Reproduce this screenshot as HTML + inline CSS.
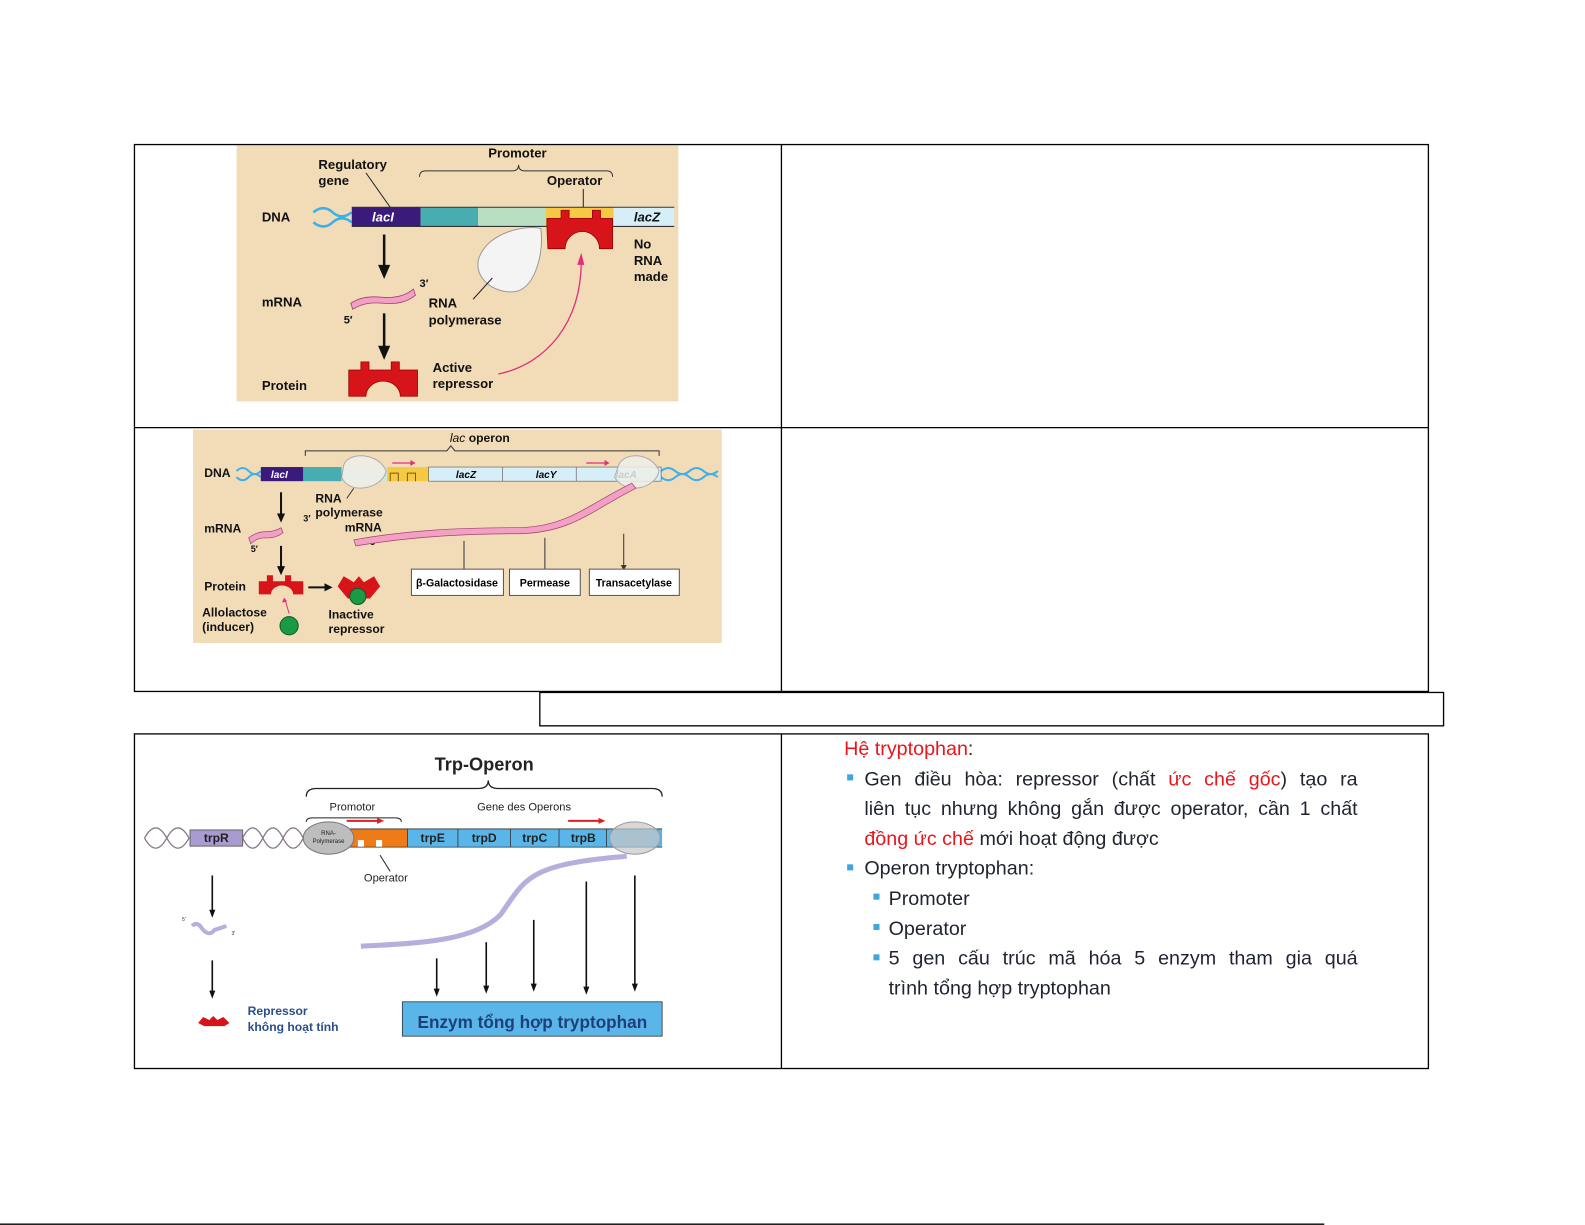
<!DOCTYPE html>
<html><head><meta charset="utf-8"><style>
html,body{margin:0;padding:0;background:#fff;width:1585px;height:1225px;overflow:hidden}
#w{position:absolute;left:0;top:0;width:1568px;height:1212px;transform:scale(1.0109);transform-origin:0 0}
svg{position:absolute;left:0;top:0}
text{font-family:"Liberation Sans",sans-serif}
.b{font-weight:bold}
#rt{position:absolute;left:835px;top:727px;font-family:"Liberation Sans","Noto Sans CJK SC",sans-serif;font-size:19.5px;color:#1f2430;line-height:29.6px}
#rt .j{text-align:justify;text-align-last:justify}
#rt .r{color:#e8161b}
.sq{position:absolute;width:6px;height:6px;background:#3fa7e0}
</style></head><body><div id="w">
<svg width="1568" height="1212" viewBox="0 0 1568 1212">
<!-- tables -->
<g stroke="#000" stroke-width="1.3" fill="none">
<rect x="133" y="143" width="1280" height="541"/>
<line x1="133" y1="423" x2="1413" y2="423"/>
<line x1="773" y1="143" x2="773" y2="684"/>
<rect x="534" y="685" width="894" height="33"/>
<rect x="133" y="726" width="1280" height="331"/>
<line x1="773" y1="726" x2="773" y2="1057"/>
<line x1="0" y1="1211" x2="1310" y2="1211"/>
</g>

<!-- Diagram 1 -->
<rect x="234" y="144" width="437" height="253" fill="#f2dcb8"/>
<g font-size="13" class="b" fill="#111" font-weight="bold">
<text x="315" y="167">Regulatory</text><text x="315" y="183">gene</text>
<text x="483" y="156">Promoter</text><text x="541" y="183">Operator</text>
<text x="259" y="219">DNA</text><text x="259" y="303">mRNA</text><text x="259" y="386">Protein</text>
<text x="627" y="246">No</text><text x="627" y="262">RNA</text><text x="627" y="278">made</text>
<text x="424" y="304">RNA</text><text x="424" y="321">polymerase</text>
<text x="428" y="368">Active</text><text x="428" y="384">repressor</text>
<text x="415" y="284" font-size="11">3′</text><text x="340" y="320" font-size="11">5′</text>
</g>
<path d="M415 175 q0 -6 6 -6 h86 q6 0 6 -6 q0 6 6 6 h81 q6 0 6 6" stroke="#333" fill="none"/>
<line x1="362" y1="171" x2="386" y2="205" stroke="#222"/>
<line x1="577" y1="187" x2="577" y2="205" stroke="#222"/>
<path d="M310 210 q10 -8 19 0 t19 0 M310 220 q10 8 19 0 t19 0" stroke="#3cb0e8" stroke-width="2.5" fill="none"/>
<rect x="348" y="205" width="68" height="19" fill="#3a1a7a"/>
<rect x="416" y="205" width="57" height="19" fill="#47adb0"/>
<rect x="473" y="205" width="67" height="19" fill="#b8dfc2"/>
<rect x="540" y="205" width="67" height="19" fill="#f6c945"/>
<rect x="607" y="205" width="60" height="19" fill="#d6eef8"/>
<line x1="348" y1="205" x2="667" y2="205" stroke="#333"/><line x1="348" y1="224" x2="667" y2="224" stroke="#333"/>
<text x="368" y="219" fill="#fff" font-size="13" font-style="italic" font-weight="bold">lacI</text>
<text x="627" y="219" fill="#111" font-size="13" font-style="italic" font-weight="bold">lacZ</text>
<path d="M541 224 V216 h14 v-8 h8 v8 h23 v-8 h8 v8 h12 V246 h-13 a17 17 0 0 0 -34 0 h-17z" fill="#d8141b" stroke="#900" stroke-width=".8"/>
<path d="M535 226 C520 222 480 230 473 258 C470 280 495 292 512 288 C530 282 538 250 535 226z" fill="#f4f4f4" stroke="#999"/>
<line x1="468" y1="296" x2="487" y2="275" stroke="#222"/>
<path d="M380 232 V265" stroke="#111" stroke-width="2.5"/><path d="M374 262 l6 14 l6 -14z" fill="#111"/>
<path d="M380 310 V345" stroke="#111" stroke-width="2.5"/><path d="M374 342 l6 14 l6 -14z" fill="#111"/>
<path d="M347 300 q12 -8 30 -6 q20 2 32 -8 l2 6 q-12 10 -32 8 q-18 -2 -30 6z" fill="#f2a0c4" stroke="#a04070" stroke-width=".8"/>
<path d="M345 392 V366 h12 v-8 h8 v8 h22 v-8 h8 v8 h18 V392 h-17 a17 15 0 0 0 -34 0z" fill="#d8141b" stroke="#900" stroke-width=".8"/>
<path d="M493 370 C540 360 575 320 575 258" stroke="#e0307a" fill="none" stroke-width="1.3"/>
<path d="M571 262 l4 -12 l3 12z" fill="#e0307a"/>

<!-- Diagram 2 -->
<rect x="191" y="425" width="523" height="211" fill="#f2dcb8"/>
<g font-size="12" font-weight="bold" fill="#111">
<text x="445" y="437"><tspan font-style="italic" font-weight="normal">lac</tspan> operon</text>
<text x="202" y="472">DNA</text><text x="202" y="527">mRNA</text><text x="202" y="584">Protein</text>
<text x="200" y="610">Allolactose</text><text x="200" y="624">(inducer)</text>
<text x="325" y="612">Inactive</text><text x="325" y="626">repressor</text>
<text x="312" y="497">RNA</text><text x="312" y="511">polymerase</text><text x="341" y="526">mRNA</text>
<text x="300" y="516" font-size="9">3′</text><text x="248" y="546" font-size="9">5′</text><text x="366" y="539" font-size="9">5′</text>
</g>
<path d="M302 451 v-5 h140 l4 -5 l4 5 h202 v5" stroke="#333" fill="none"/>
<path d="M234 466 q6 -6 12 0 t12 0 M234 472 q6 6 12 0 t12 0 M654 466 q7 -6 14 0 t14 0 t14 0 t14 0 M654 472 q7 6 14 0 t14 0 t14 0 t14 0" stroke="#3cb0e8" stroke-width="2" fill="none"/>
<rect x="258" y="462" width="42" height="14" fill="#3a1a7a"/>
<rect x="300" y="462" width="38" height="14" fill="#47adb0"/>
<rect x="338" y="462" width="45" height="14" fill="#cfe8d6"/>
<rect x="383" y="462" width="41" height="14" fill="#f6c945"/>
<rect x="424" y="462" width="230" height="14" fill="#d6eef8" stroke="#555" stroke-width=".6"/>
<line x1="497" y1="462" x2="497" y2="476" stroke="#555" stroke-width=".6"/><line x1="570" y1="462" x2="570" y2="476" stroke="#555" stroke-width=".6"/>
<path d="M386 476 v-8 h8 v8 M403 476 v-8 h8 v8" stroke="#7a5a10" fill="none" stroke-width="1"/>
<g font-size="10" font-style="italic" font-weight="bold"><text x="268" y="473" fill="#fff">lacI</text><text x="451" y="473">lacZ</text><text x="530" y="473">lacY</text><text x="609" y="473">lacA</text></g>
<path d="M340 460 C345 446 375 448 382 466 C378 484 345 490 338 472z" fill="#eeeeea" fill-opacity=".85" stroke="#aaa"/>
<path d="M612 460 C618 446 645 448 652 466 C648 484 618 490 608 472z" fill="#eeeeea" fill-opacity=".85" stroke="#aaa"/>
<line x1="343" y1="493" x2="350" y2="483" stroke="#333"/>
<path d="M388 458 h20 M580 458 h20" stroke="#e0307a" stroke-width="1.3"/><path d="M406 455 l5 3 l-5 3z M598 455 l5 3 l-5 3z" fill="#e0307a"/>
<path d="M278 487 V510 M278 540 V562" stroke="#111" stroke-width="2"/><path d="M274 508 l4 9 l4 -9z M274 560 l4 9 l4 -9z" fill="#111"/>
<path d="M246 532 q8 -6 16 -6 q10 0 16 -4 l2 5 q-8 6 -18 5 q-8 0 -14 6z" fill="#f2a0c4" stroke="#a04070" stroke-width=".7"/>
<path d="M350 534 C400 525 450 522 510 522 C560 522 580 500 625 478 l4 5 C585 505 565 528 510 528 C450 528 400 532 352 540z" fill="#f2a0c4" stroke="#a04070" stroke-width=".7"/>
<g stroke="#333"><line x1="459" y1="535" x2="459" y2="568"/><line x1="539" y1="532" x2="539" y2="568"/><line x1="617" y1="528" x2="617" y2="561"/></g>
<path d="M456 566 l3 5 l3 -5z M536 566 l3 5 l3 -5z M614 559 l3 5 l3 -5z" fill="#333"/>
<g fill="#fff" stroke="#555"><rect x="407" y="563" width="91" height="26"/><rect x="504" y="563" width="70" height="26"/><rect x="583" y="563" width="89" height="26"/></g>
<g font-size="10.5" font-weight="bold" text-anchor="middle"><text x="452" y="580">β-Galactosidase</text><text x="539" y="580">Permease</text><text x="627" y="580">Transacetylase</text></g>
<path d="M256 588 V575 h8 v-6 h6 v6 h12 v-6 h6 v6 h12 V588 h-10 a10 8 0 0 0 -22 0z" fill="#d8141b"/>
<path d="M305 581 h18" stroke="#111" stroke-width="2"/><path d="M321 577 l8 4 l-8 4z" fill="#111"/>
<path d="M334 580 l6 -10 l10 6 l5 -6 l5 6 l10 -6 l6 10 l-10 12 h-22z" fill="#d8141b"/>
<circle cx="354" cy="590" r="8" fill="#1a9a45" stroke="#0c5a25"/>
<circle cx="286" cy="619" r="9" fill="#1a9a45" stroke="#0c5a25"/>
<path d="M286 607 L282 593" stroke="#e0307a"/><path d="M279 596 l2 -5 l3 4z" fill="#e0307a"/>

<!-- Diagram 3 -->
<text x="430" y="762" font-size="18" font-weight="bold" fill="#222">Trp-Operon</text>
<path d="M303 788 q0 -8 10 -8 h160 q10 0 10 -8 q0 8 10 8 h152 q10 0 10 8" stroke="#222" fill="none" stroke-width="1.3"/>
<text x="326" y="802" font-size="11" fill="#222">Promotor</text><text x="472" y="802" font-size="11" fill="#222">Gene des Operons</text>
<path d="M303 813 q0 -4 6 -4 h82 q6 0 6 4" stroke="#222" fill="none"/>
<path d="M143 829 q11 -20 22 0 t22 0 M143 829 q11 20 22 0 t22 0 M240 829 q10 -20 20 0 t20 0 t20 0 M240 829 q10 20 20 0 t20 0 t20 0" stroke="#8a7a88" stroke-width="1.3" fill="none"/>
<rect x="188" y="821" width="52" height="16" fill="#a99bd0" stroke="#666"/>
<text x="214" y="833" font-size="12" font-weight="bold" text-anchor="middle" fill="#222">trpR</text>
<rect x="343" y="820" width="60" height="18" fill="#ee7a18"/>
<rect x="354" y="831" width="6" height="7" fill="#fff"/><rect x="372" y="831" width="6" height="7" fill="#fff"/>
<rect x="403" y="820" width="252" height="18" fill="#5ab6e8"/>
<g stroke="#333" stroke-width=".8"><line x1="403" y1="820" x2="403" y2="838"/><line x1="453" y1="820" x2="453" y2="838"/><line x1="505" y1="820" x2="505" y2="838"/><line x1="553" y1="820" x2="553" y2="838"/><line x1="600" y1="820" x2="600" y2="838"/><line x1="343" y1="820" x2="655" y2="820"/><line x1="343" y1="838" x2="655" y2="838"/></g>
<g font-size="12" font-weight="bold" fill="#222" text-anchor="middle"><text x="428" y="833">trpE</text><text x="479" y="833">trpD</text><text x="529" y="833">trpC</text><text x="577" y="833">trpB</text><text x="629" y="833" fill="#8ab">trpA</text></g>
<ellipse cx="325" cy="829" rx="25" ry="16" fill="#bdbdbd" stroke="#777"/>
<text x="325" y="826" font-size="6" text-anchor="middle" fill="#222">RNA-</text><text x="325" y="834" font-size="6" text-anchor="middle" fill="#222">Polymerase</text>
<ellipse cx="628" cy="829" rx="25" ry="16" fill="#c8c8c8" fill-opacity=".7" stroke="#999"/>
<path d="M343 812 h32 M562 812 h32" stroke="#e02020" stroke-width="2"/><path d="M373 809 l7 3 l-7 3z M592 809 l7 3 l-7 3z" fill="#e02020"/>
<line x1="376" y1="846" x2="386" y2="862" stroke="#222"/>
<text x="360" y="872" font-size="11" fill="#222">Operator</text>
<path d="M357 936 C420 933 470 930 495 905 C520 870 520 855 620 847" stroke="#b6aedc" stroke-width="5" fill="none"/>
<g stroke="#111" stroke-width="1.6"><line x1="210" y1="866" x2="210" y2="902"/><line x1="210" y1="950" x2="210" y2="982"/><line x1="432" y1="948" x2="432" y2="980"/><line x1="481" y1="932" x2="481" y2="977"/><line x1="528" y1="910" x2="528" y2="975"/><line x1="580" y1="872" x2="580" y2="978"/><line x1="628" y1="866" x2="628" y2="975"/></g>
<path d="M207 900 l3 8 l3 -8z M207 980 l3 8 l3 -8z M429 978 l3 8 l3 -8z M478 975 l3 8 l3 -8z M525 973 l3 8 l3 -8z M577 976 l3 8 l3 -8z M625 973 l3 8 l3 -8z" fill="#111"/>
<path d="M190 916 q4 -4 8 0 q8 12 14 4 l12 -4" stroke="#b6aedc" stroke-width="4" fill="none"/>
<text x="180" y="911" font-size="5" fill="#333">5'</text><text x="229" y="925" font-size="5" fill="#333">3'</text>
<path d="M196 1012 l5 -6 l6 3 l4 -4 l4 4 l6 -3 l6 6 l-5 3 h-20z" fill="#d8141b"/>
<text x="245" y="1004" font-size="12" font-weight="bold" fill="#2a4e8c">Repressor</text>
<text x="245" y="1020" font-size="12" font-weight="bold" fill="#2a4e8c">không hoạt tính</text>
<rect x="398" y="991" width="257" height="34" fill="#5ab6e8" stroke="#333" stroke-width=".8"/>
<text x="413" y="1017" font-size="17" font-weight="bold" fill="#1e3f7a">Enzym tổng hợp tryptophan</text>
</svg>

<div id="rt">
<div class="r">Hệ tryptophan<span style="color:#1f2430">:</span></div>
<div style="position:relative;left:20px;width:488px">
<div class="j">Gen điều hòa: repressor (chất <span class="r">ức chế gốc</span>) tạo ra</div>
<div class="j">liên tục nhưng không gắn được operator, cần 1 chất</div>
<div><span class="r">đồng ức chế</span> mới hoạt động được</div>
<div>Operon tryptophan:</div>
</div>
<div style="position:relative;left:44px;width:464px">
<div>Promoter</div>
<div>Operator</div>
<div class="j">5 gen cấu trúc mã hóa 5 enzym tham gia quá</div>
<div>trình tổng hợp tryptophan</div>
</div>
</div>
<div class="sq" style="left:838px;top:766px"></div>
<div class="sq" style="left:838px;top:855px"></div>
<div class="sq" style="left:864px;top:884px"></div>
<div class="sq" style="left:864px;top:914px"></div>
<div class="sq" style="left:864px;top:944px"></div>
</div></body></html>
